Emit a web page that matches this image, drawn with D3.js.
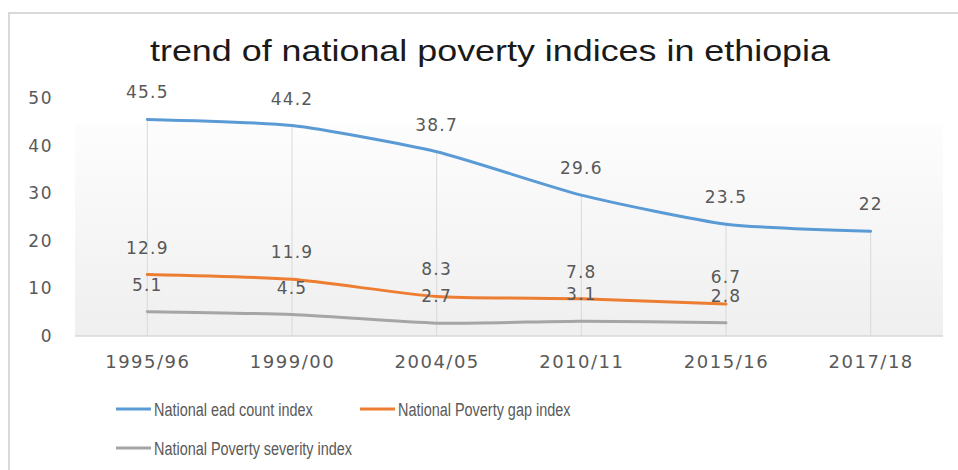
<!DOCTYPE html>
<html>
<head>
<meta charset="utf-8">
<script src="https://cdn.jsdelivr.net/npm/d3@7/dist/d3.min.js"></script>
<style>
  html, body { margin: 0; padding: 0; background: #fff; }
  svg { display: block; }
</style>
</head>
<body>
<svg id="chart" width="958" height="470"></svg>
<script>
// Survey periods and the three national poverty indices
const periods = ["1995/96", "1999/00", "2004/05", "2010/11", "2015/16", "2017/18"];
const headCount = [45.5, 44.2, 38.7, 29.6, 23.5, 22];
const gapIndex = [12.9, 11.9, 8.3, 7.8, 6.7];
const severityIndex = [5.1, 4.5, 2.7, 3.1, 2.8];
const yTicks = [0, 10, 20, 30, 40, 50];
const seriesNames = ["National ead count index", "National Poverty gap index", "National Poverty severity index"];
const seriesColors = ["#5b9bd5", "#ed7d31", "#a5a5a5"];
const titleText = "trend of national poverty indices in ethiopia";

const series = [headCount, gapIndex, severityIndex].map((vals, i) => ({
  name: seriesNames[i],
  color: seriesColors[i],
  points: vals.map((v, j) => ({ period: periods[j], value: v }))
}));

const svg = d3.select("#chart");
const W = 958, H = 470;
const plot = { left: 75, right: 943, top: 98, bottom: 336 };
const labelFont = "'DejaVu Sans', Verdana, sans-serif";

const x = d3.scalePoint().domain(periods).range([plot.left, plot.right]).padding(0.5);
const y = d3.scaleLinear().domain([0, 50]).range([plot.bottom, plot.top]);

// Outer chart frame
svg.append("rect")
  .attr("x", 9).attr("y", 13).attr("width", W + 10).attr("height", H + 10)
  .attr("fill", "#fff").attr("stroke", "#d9d9d9").attr("stroke-width", 2);

// Plot area with a soft vertical gradient
const defs = svg.append("defs");
const grad = defs.append("linearGradient").attr("id", "plotFill")
  .attr("x1", 0).attr("y1", 0).attr("x2", 0).attr("y2", 1);
grad.append("stop").attr("offset", "0%").attr("stop-color", "#fdfdfd");
grad.append("stop").attr("offset", "100%").attr("stop-color", "#efefef");
svg.append("rect")
  .attr("x", plot.left).attr("y", plot.top + 26)
  .attr("width", plot.right - plot.left).attr("height", plot.bottom - plot.top - 26)
  .attr("fill", "url(#plotFill)");

// Title
svg.append("text")
  .attr("x", 490).attr("y", 61)
  .attr("text-anchor", "middle")
  .attr("font-family", "'Liberation Sans', Arial, sans-serif")
  .attr("font-size", 29)
  .attr("fill", "#1a1a1a")
  .attr("textLength", 680).attr("lengthAdjust", "spacingAndGlyphs")
  .text(titleText);

// Drop lines from the highest value in each period down to the axis
const maxByPeriod = periods.map((p, j) => d3.max(series, s => s.points[j] ? s.points[j].value : -Infinity));
svg.append("g").selectAll("line")
  .data(periods)
  .join("line")
  .attr("x1", d => x(d)).attr("x2", d => x(d))
  .attr("y1", (d, j) => y(maxByPeriod[j])).attr("y2", plot.bottom)
  .attr("stroke", "#d9d9d9").attr("stroke-width", 1);

// X axis
const xAxis = svg.append("g")
  .attr("transform", `translate(0,${plot.bottom})`)
  .call(d3.axisBottom(x).tickSize(0).tickPadding(18));
xAxis.select(".domain").attr("stroke", "#d9d9d9").attr("stroke-width", 1.5)
  .attr("d", `M${plot.left},0H${plot.right}`);
xAxis.selectAll("text")
  .attr("font-family", labelFont)
  .attr("font-size", 18).attr("letter-spacing", 1.5).attr("fill", "#595959")
  .attr("dy", "0.35em").attr("y", 26);

// Y axis (labels only)
const yAxis = svg.append("g")
  .attr("transform", `translate(53,0)`)
  .call(d3.axisLeft(y).tickValues(yTicks).tickSize(0).tickPadding(0));
yAxis.select(".domain").remove();
yAxis.selectAll("text")
  .attr("font-family", labelFont)
  .attr("font-size", 17).attr("letter-spacing", 1.5).attr("fill", "#595959");

// Smoothed series lines
const line = d3.line()
  .x(d => x(d.period)).y(d => y(d.value))
  .curve(d3.curveCardinal.tension(0.4));

svg.append("g").selectAll("path")
  .data(series)
  .join("path")
  .attr("d", s => line(s.points))
  .attr("fill", "none")
  .attr("stroke", s => s.color)
  .attr("stroke-width", 3)
  .attr("stroke-linecap", "round");

// Value labels above each point
const labels = svg.append("g");
series.forEach(s => {
  labels.selectAll(null)
    .data(s.points)
    .join("text")
    .attr("x", d => x(d.period))
    .attr("y", d => y(d.value) - 27)
    .attr("dy", "0.35em")
    .attr("text-anchor", "middle")
    .attr("font-family", labelFont)
    .attr("font-size", 17).attr("letter-spacing", 1.2).attr("fill", "#595959")
    .text(d => d.value);
});

// Legend
const legendPos = [
  { lx: 116, ly: 409 },
  { lx: 360, ly: 409 },
  { lx: 116, ly: 448 }
];
const legend = svg.append("g").selectAll("g")
  .data(series)
  .join("g")
  .attr("transform", (d, i) => `translate(${legendPos[i].lx},${legendPos[i].ly})`);
legend.append("line")
  .attr("x1", 0).attr("x2", 35).attr("y1", 0).attr("y2", 0)
  .attr("stroke", d => d.color).attr("stroke-width", 3);
legend.append("text")
  .attr("transform", "translate(38,0) scale(0.76,1)")
  .attr("dy", "0.35em")
  .attr("font-family", "'Liberation Sans', Arial, sans-serif")
  .attr("font-size", 19).attr("fill", "#595959")
  .text(d => d.name);
</script>
</body>
</html>
